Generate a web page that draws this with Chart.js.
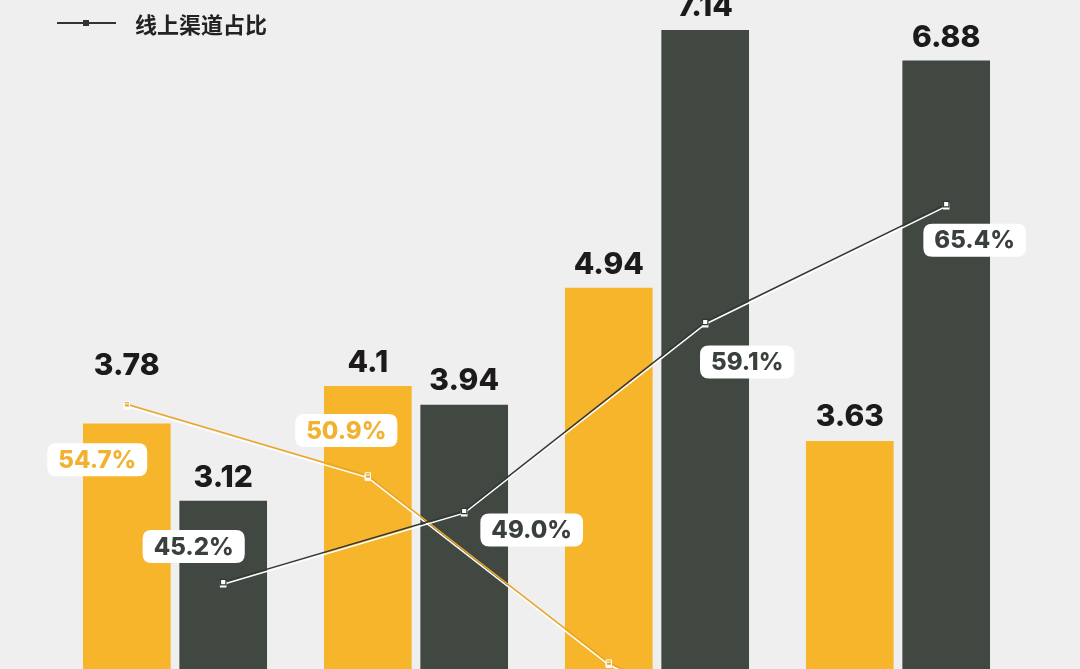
<!DOCTYPE html>
<html>
<head>
<meta charset="utf-8">
<script src="https://cdn.jsdelivr.net/npm/chart.js@4.4.1/dist/chart.umd.min.js"></script>
<style>
  html, body { margin: 0; padding: 0; background: #efefef; overflow: hidden; width: 1080px; height: 669px; }
  #wrap { position: absolute; left: 0; top: 0; width: 1080px; height: 900px; }
  #legend { position: absolute; left: 57px; top: 8px; height: 30px; display: flex; align-items: center; font-family: "Noto Sans CJK SC", sans-serif; font-weight: 700; font-size: 22px; color: #222; }
  #legend .mk { position: relative; width: 59px; height: 30px; margin-right: 19px; }
  #legend .mk .ln { position: absolute; left: 0; right: 0; top: 14px; height: 1.5px; background: #333; }
  #legend .mk .sq { position: absolute; left: 26px; top: 12px; width: 6px; height: 6px; background: #333; }
</style>
</head>
<body>
<div id="wrap"><canvas id="c" width="1080" height="900"></canvas></div>
<div id="legend"><div class="mk"><div class="ln"></div><div class="sq"></div></div><span>线上渠道占比</span></div>
<script>
// ---- data ----
const categories = ["第一组", "第二组", "第三组", "第四组"];
const barSeriesA = [3.78, 4.1, 4.94, 3.63];      // yellow bars
const barSeriesB = [3.12, 3.94, 7.14, 6.88];     // dark bars
const offlineShare = [54.7, 50.9, 40.9, 34.6];   // yellow line (%)
const onlineShare = [45.2, 49.0, 59.1, 65.4];    // dark line (%)
const lineLabelOnline = "线上渠道占比";
const lineLabelOffline = "线下渠道占比";

// ---- styles / layout config ----
const YELLOW = "#F7B52C";
const DARK = "#404841";
const YELLOW_LINE = "#EBA526";
const DARK_LINE = "#343834";
const SERIES_SHIFT = 0.2; // series offset within a category (category units)
const BAR_THICKNESS = 87;
const barLabelLift = [[49, 14, 14, 15], [14, 15, 14, 14]];
const pctLabelOffsets = [
  [[-29.5, 55.5], [-21.5, -45], [-30, 40], [-30, 40]],
  [[-29.5, -35.5], [67.5, 19], [42, 40], [28.5, 36]]
];
const pctColors = ["#F2B12E", "#3A403B"];

// each series sits at its category index shifted left/right
const toXY = (arr, shift) => arr.map((v, i) => ({ x: i + shift, y: v }));

const lineOutline = {
  id: 'lineOutline',
  beforeDatasetDraw(chart, args) {
    const ds = chart.data.datasets[args.index];
    if (ds.type === 'line') {
      const ctx = chart.ctx;
      ctx.save();
      ctx.shadowColor = '#ffffff';
      ctx.shadowOffsetX = 0;
      ctx.shadowOffsetY = 2.2;
      ctx.shadowBlur = 0;
    }
  },
  afterDatasetDraw(chart, args) {
    const ds = chart.data.datasets[args.index];
    if (ds.type === 'line') chart.ctx.restore();
  }
};

function roundRect(ctx, x, y, w, h, r) {
  ctx.beginPath();
  ctx.moveTo(x + r, y);
  ctx.lineTo(x + w - r, y);
  ctx.quadraticCurveTo(x + w, y, x + w, y + r);
  ctx.lineTo(x + w, y + h - r);
  ctx.quadraticCurveTo(x + w, y + h, x + w - r, y + h);
  ctx.lineTo(x + r, y + h);
  ctx.quadraticCurveTo(x, y + h, x, y + h - r);
  ctx.lineTo(x, y + r);
  ctx.quadraticCurveTo(x, y, x + r, y);
  ctx.closePath();
}

const labelsPlugin = {
  id: 'valueLabels',
  afterDatasetsDraw(chart) {
    const ctx = chart.ctx;
    ctx.save();
    [0, 1].forEach(di => {
      const meta = chart.getDatasetMeta(di);
      meta.data.forEach((bar, i) => {
        ctx.font = '800 30px Inter, sans-serif';
        ctx.fillStyle = '#1c1a1a';
        ctx.textAlign = 'center';
        ctx.textBaseline = 'alphabetic';
        ctx.fillText(String(chart.data.datasets[di].data[i].y), bar.x, bar.y - barLabelLift[di][i]);
      });
    });
    [2, 3].forEach((di, s) => {
      const meta = chart.getDatasetMeta(di);
      meta.data.forEach((pt, i) => {
        const v = chart.data.datasets[di].data[i].y;
        const txt = v.toFixed(1) + '%';
        ctx.font = '800 24px Inter, sans-serif';
        const w = ctx.measureText(txt).width + 22;
        const h = 33;
        const cx = pt.x + pctLabelOffsets[s][i][0];
        const cy = pt.y + pctLabelOffsets[s][i][1];
        ctx.fillStyle = '#ffffff';
        roundRect(ctx, cx - w / 2, cy - h / 2, w, h, 9);
        ctx.fill();
        ctx.fillStyle = pctColors[s];
        ctx.textAlign = 'center';
        ctx.textBaseline = 'middle';
        ctx.fillText(txt, cx, cy + 1);
      });
    });
    ctx.restore();
  }
};

new Chart(document.getElementById('c'), {
  data: {
    labels: categories,
    datasets: [
      { type: 'bar', label: '系列一', data: toXY(barSeriesA, -SERIES_SHIFT), backgroundColor: YELLOW, xAxisID: 'x', yAxisID: 'y', order: 3,
        grouped: false, barThickness: BAR_THICKNESS },
      { type: 'bar', label: '系列二', data: toXY(barSeriesB, SERIES_SHIFT), backgroundColor: DARK, xAxisID: 'x', yAxisID: 'y', order: 3,
        grouped: false, barThickness: BAR_THICKNESS },
      { type: 'line', label: lineLabelOffline, data: toXY(offlineShare, -SERIES_SHIFT), borderColor: YELLOW_LINE, borderWidth: 1.5,
        pointStyle: 'rect', pointRadius: 3.8, pointBackgroundColor: YELLOW_LINE, pointBorderColor: '#ffffff', pointBorderWidth: 1,
        xAxisID: 'x', yAxisID: 'y2', order: 1, tension: 0, clip: false },
      { type: 'line', label: lineLabelOnline, data: toXY(onlineShare, SERIES_SHIFT), borderColor: DARK_LINE, borderWidth: 1.5,
        pointStyle: 'rect', pointRadius: 3.8, pointBackgroundColor: '#ffffff', pointBorderColor: DARK_LINE, pointBorderWidth: 1.2,
        xAxisID: 'x', yAxisID: 'y2', order: 0, tension: 0, clip: false }
    ]
  },
  options: {
    responsive: false,
    animation: false,
    events: [],
    layout: { autoPadding: false, padding: { left: 54.5, right: 61.5, top: 0, bottom: 33.5 } },
    plugins: { legend: { display: false }, tooltip: { enabled: false } },
    scales: {
      x: { type: 'linear', display: false, offset: false, min: -0.5, max: 3.5 },
      y: { type: 'linear', display: false, min: 0, max: 7.4 },
      y2: { type: 'linear', display: false, min: 30, max: 76.31 }
    }
  },
  plugins: [lineOutline, labelsPlugin]
});
</script>
</body>
</html>
